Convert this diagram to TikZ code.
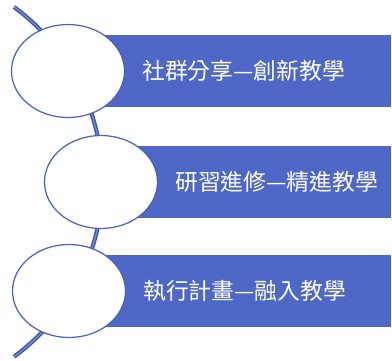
\documentclass[tikz,border=0pt]{standalone}
\usepackage{fontspec}
\newfontfamily\cjk{Noto Sans CJK TC}
\usetikzlibrary{positioning}
\usetikzlibrary{shapes.geometric}
\definecolor{bandblue}{RGB}{79,104,199}
\definecolor{rimblue}{RGB}{70,96,194}
\definecolor{spinelight}{RGB}{120,142,215}

\begin{document}
\begin{tikzpicture}[x=1pt, y=-1pt,
    band/.style={fill=bandblue, minimum width=#1, minimum height=72pt, anchor=west, inner sep=0pt},
    disc/.style={ellipse, draw=rimblue, line width=1.2pt, fill=white, minimum width=113pt, minimum height=93pt, inner sep=0pt},
    caption/.style={text=white, font=\cjk\fontsize{22.8}{23}\selectfont, inner sep=0pt},
    spine/.style={draw=rimblue!85!black, line width=1.4pt, double=spinelight, double distance=1.3pt}]
    \useasboundingbox (0,0) rectangle (392,361);

    % the bent line behind the circles
    \coordinate (top) at (14,7);
    \draw[spine] (top) arc[start angle=-53.7, end angle=53.7, radius=217];

    % bands
    \node[band=323pt] (b1) at (68,71) {};
    \node[band=290pt] (b2) at (101,182) {};
    \node[band=322pt] (b3) at (69,291) {};

    % circles
    \node[disc] (c1) at (b1.west) {};
    \node[disc] (c2) at (b2.west) {};
    \node[disc] (c3) at (b3.west) {};

    % texts
    \node[caption, right=17pt of c1] (t1) {社群分享—創新教學};
    \node[caption, right=17pt of c2] (t2) {研習進修—精進教學};
    \node[caption, right=17pt of c3] (t3) {執行計畫—融入教學};

\end{tikzpicture}
\end{document}
